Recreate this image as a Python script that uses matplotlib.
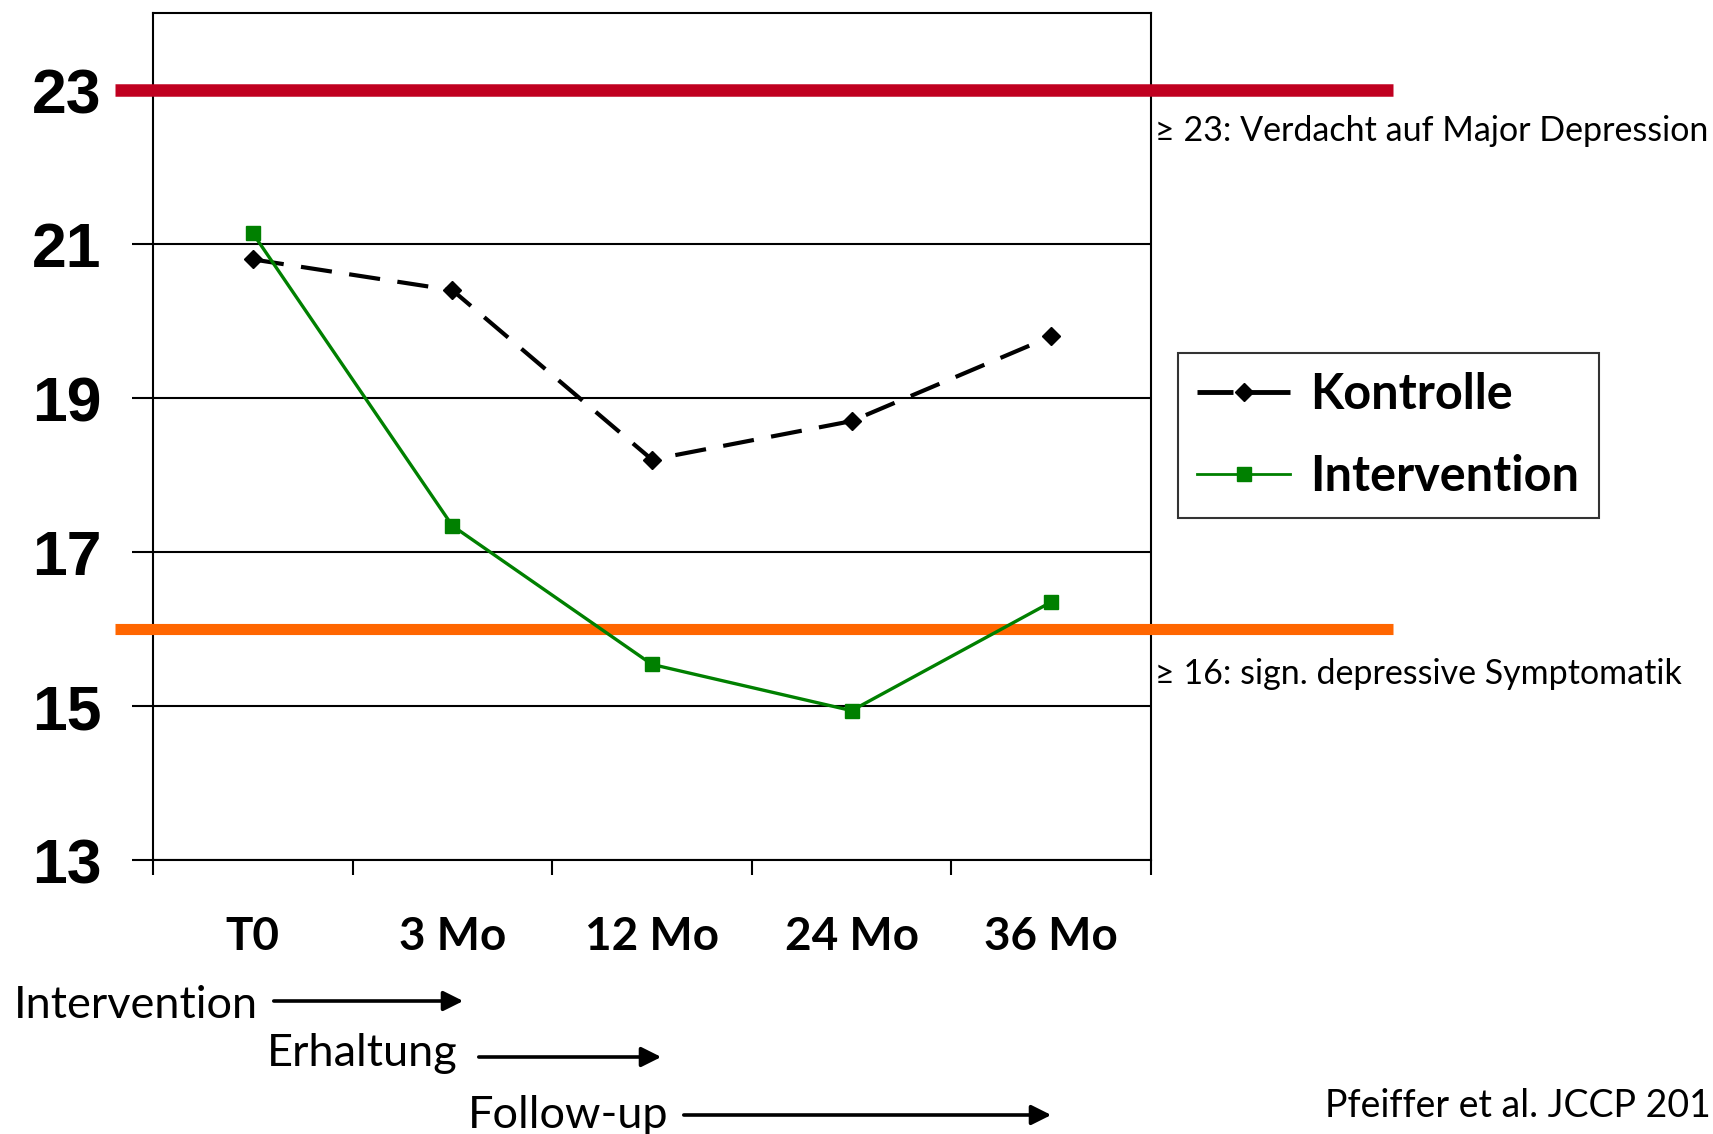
import matplotlib
matplotlib.use("Agg")
import matplotlib.pyplot as plt
from matplotlib.lines import Line2D
from matplotlib.patches import FancyArrowPatch

# CES-D Mittelwerte pro Messzeitpunkt
zeitpunkte = ["T0", "3 Mo", "12 Mo", "24 Mo", "36 Mo"]
kontrolle = [20.8, 20.4, 18.2, 18.7, 19.8]
intervention = [21.14, 17.34, 15.54, 14.94, 16.35]

# Cut-off-Werte
cutoff_major = 23
cutoff_sign = 16
y_ticks = [13, 15, 17, 19, 21, 23]

W, H = 1713, 1134
fig = plt.figure(figsize=(W / 100, H / 100), dpi=100)
ax = fig.add_axes([153 / W, 1 - 860 / H, (1151 - 153) / W, (860 - 13) / H])

arial = ["Liberation Sans", "DejaVu Sans"]
calib = ["Lato", "DejaVu Sans"]

x = [i + 0.5 for i in range(len(zeitpunkte))]

# Schwellenlinien ragen ueber den Rahmen hinaus
ax.plot([-0.19, 6.21], [cutoff_major, cutoff_major], color="#C00020", lw=9,
        solid_capstyle="butt", clip_on=False, zorder=3)
ax.plot([-0.19, 6.21], [cutoff_sign, cutoff_sign], color="#FF6600", lw=8,
        solid_capstyle="butt", clip_on=False, zorder=3)

ax.plot(x, kontrolle, color="black", lw=3, dashes=(7.5, 4.2),
        marker="D", markersize=9.5, zorder=5)
ax.plot(x, intervention, color="#008000", lw=2.4, marker="s",
        markersize=9.5, zorder=5)

ax.set_xlim(0, 5)
ax.set_ylim(13, 24)

ax.set_yticks(y_ticks)
ax.set_yticklabels([str(v) for v in y_ticks], fontsize=45, fontweight="bold",
                   family=arial)
ax.tick_params(axis="y", direction="out", length=15, width=1.5, pad=22)
ax.yaxis.grid(True, color="black", lw=1.5)
ax.set_axisbelow(True)

ax.set_xticks(range(6))
ax.set_xticklabels([])
ax.set_xticks(x, minor=True)
ax.set_xticklabels(zeitpunkte, minor=True, fontsize=33, fontweight="bold",
                   family=calib)
ax.tick_params(axis="x", which="major", direction="out", length=11, width=1.5)
ax.tick_params(axis="x", which="minor", length=0, pad=40)

for s in ax.spines.values():
    s.set_linewidth(1.5)

# Legendensymbole: kurzer Strich vor der Raute, danach durchgezogen
h_kon = Line2D([], [], color="black", lw=3.5, dashes=(7.4, 1.6, 14, 1),
               marker="D", markersize=9.5)
h_int = Line2D([], [], color="#008000", lw=2, marker="s", markersize=9.5)
leg = fig.legend([h_kon, h_int], ["Kontrolle", "Intervention"],
                 loc="upper left", bbox_to_anchor=(1178 / W, 1 - 353 / H),
                 prop={"family": calib, "weight": "bold", "size": 35},
                 frameon=True, fancybox=False, edgecolor="black",
                 handlelength=1.9, handletextpad=0.42, borderpad=0.4,
                 labelspacing=0.75, borderaxespad=0)
leg.get_frame().set_linewidth(1.5)


def ftext(px, py, s, **kw):
    fig.text(px / W, 1 - py / H, s, va="center", family=calib, **kw)


ftext(1155, 131, "≥ 23: Verdacht auf Major Depression", fontsize=24.5)
ftext(1155, 674, "≥ 16: sign. depressive Symptomatik", fontsize=24.5)

ftext(14, 1006, "Intervention", fontsize=32.5)
ftext(267, 1054, "Erhaltung", fontsize=32.5)
ftext(468, 1115, "Follow-up", fontsize=32.5)
ftext(W - 2, 1106, "Pfeiffer et al. JCCP 201", fontsize=27, ha="right")

for x0, x1, y in [(271, 466, 1001), (476, 664, 1057), (681, 1054, 1115)]:
    fig.add_artist(FancyArrowPatch(
        (x0 / W, 1 - y / H), (x1 / W, 1 - y / H), transform=fig.transFigure,
        arrowstyle="-|>,head_length=8,head_width=4", lw=2.6, color="black",
        mutation_scale=1.5))

fig.savefig("out.png", dpi=100)
